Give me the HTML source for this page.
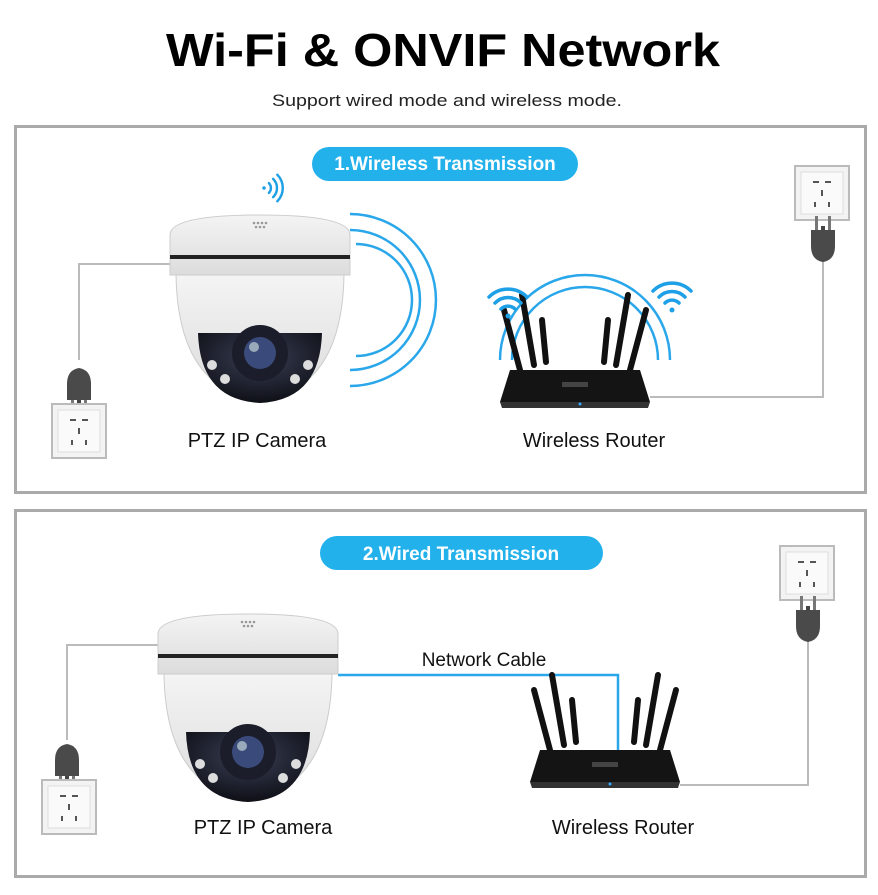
<!DOCTYPE html>
<html><head><meta charset="utf-8"><style>
html,body{margin:0;padding:0;background:#fff;width:878px;height:895px;overflow:hidden}
svg text{font-family:"Liberation Sans",Arial,sans-serif}
</style></head><body>
<svg width="878" height="895" viewBox="0 0 878 895" xmlns="http://www.w3.org/2000/svg">
<defs>
<linearGradient id="dome" x1="0" y1="0" x2="0" y2="1"><stop offset="0" stop-color="#f4f4f4"/><stop offset="1" stop-color="#dcdcdc"/></linearGradient>
<radialGradient id="lens" cx="0.5" cy="0.35" r="0.7"><stop offset="0" stop-color="#3a3f55"/><stop offset="1" stop-color="#0b0c12"/></radialGradient>
<g id="socket">
<rect x="0" y="0" width="54" height="54" fill="#f3f3f3" stroke="#bbb" stroke-width="2"/>
<rect x="6" y="6" width="42" height="42" fill="#fafafa" stroke="#ddd"/>
<rect x="18" y="15" width="6" height="2" fill="#555"/><rect x="30" y="15" width="6" height="2" fill="#555"/>
<rect x="26" y="24" width="2" height="6" fill="#555"/>
<rect x="19" y="36" width="2" height="5" fill="#555"/><rect x="33" y="36" width="2" height="5" fill="#555"/>
</g>
<g id="plugup">
<rect x="-2" y="-30" width="4" height="30" fill="#444"/>
<path d="M-12 -20 Q-12 -34 0 -36 Q12 -34 12 -20 L12 -4 L-12 -4Z" fill="#4a4a4a"/>
<rect x="-8" y="-4" width="3" height="14" fill="#777"/><rect x="5" y="-4" width="3" height="14" fill="#777"/>
</g>
<g id="plugdown">
<rect x="-2" y="0" width="4" height="30" fill="#444"/>
<path d="M-12 20 Q-12 34 0 36 Q12 34 12 20 L12 4 L-12 4Z" fill="#4a4a4a"/>
<rect x="-8" y="-10" width="3" height="14" fill="#777"/><rect x="5" y="-10" width="3" height="14" fill="#777"/>
</g>
<g id="camera">
<path d="M0 20 Q0 0 90 0 Q180 0 180 20 L180 60 L0 60Z" fill="url(#dome)" stroke="#ccc"/>
<rect x="0" y="40" width="180" height="4" fill="#222"/>
<path d="M6 60 L174 60 Q172 175 90 185 Q8 175 6 60Z" fill="url(#dome)" stroke="#ccc"/>
<path d="M28 118 Q30 185 90 188 Q150 185 152 118 Z" fill="url(#lens)"/>
<circle cx="90" cy="138" r="28" fill="#1b1d2a"/>
<circle cx="90" cy="138" r="16" fill="#3a4a7a"/>
<circle cx="84" cy="132" r="5" fill="#9ab"/>
<circle cx="42" cy="150" r="5" fill="#ddd"/><circle cx="55" cy="164" r="5" fill="#ddd"/>
<circle cx="125" cy="164" r="5" fill="#ddd"/><circle cx="138" cy="150" r="5" fill="#ddd"/>
<g fill="#999"><circle cx="84" cy="8" r="1.3"/><circle cx="88" cy="8" r="1.3"/><circle cx="92" cy="8" r="1.3"/><circle cx="96" cy="8" r="1.3"/><circle cx="86" cy="12" r="1.3"/><circle cx="90" cy="12" r="1.3"/><circle cx="94" cy="12" r="1.3"/></g>
</g>
<g id="router">
<g stroke="#111" stroke-width="6" stroke-linecap="round">
<line x1="20" y1="60" x2="4" y2="0"/><line x1="34" y1="55" x2="22" y2="-15"/><line x1="46" y1="52" x2="42" y2="10"/>
<line x1="104" y1="52" x2="108" y2="10"/><line x1="116" y1="55" x2="128" y2="-15"/><line x1="130" y1="60" x2="146" y2="0"/>
</g>
<path d="M10 60 L140 60 L150 92 L0 92Z" fill="#141414"/>
<path d="M0 92 L150 92 L148 98 L2 98Z" fill="#333"/>
<rect x="62" y="72" width="26" height="5" fill="#444"/>
<circle cx="80" cy="94" r="1.5" fill="#3af"/>
</g>
<g id="wifi" fill="none" stroke="#1ea0e6" stroke-width="3.5" stroke-linecap="round">
<circle cx="0" cy="0" r="2.5" fill="#1ea0e6" stroke="none"/>
<path d="M-7 -7 A10 10 0 0 1 7 -7"/><path d="M-13 -13 A18 18 0 0 1 13 -13"/><path d="M-19 -19 A27 27 0 0 1 19 -19"/>
</g>
</defs>

<text x="166" y="66" font-size="46" font-weight="bold" fill="#000" textLength="554" lengthAdjust="spacingAndGlyphs">Wi-Fi &amp; ONVIF Network</text>
<text x="272" y="106" font-size="17" fill="#222" textLength="350" lengthAdjust="spacingAndGlyphs">Support wired mode and wireless mode.</text>

<!-- Panel 1 -->
<rect x="15.5" y="126.5" width="850" height="366" fill="#fff" stroke="#aaa" stroke-width="3"/>
<rect x="312" y="147" width="266" height="34" rx="17" fill="#23b1ec"/>
<text x="445" y="170" text-anchor="middle" font-size="19" font-weight="bold" fill="#fff">1.Wireless Transmission</text>

<g fill="none" stroke="#2aa7ea" stroke-width="2.5">
<path d="M350 230 A70 70 0 0 1 350 370"/>
<path d="M356 244 A55 55 0 0 1 356 356"/>
<path d="M350 214 A86 86 0 0 1 350 386"/>
<path d="M500 360 A85 85 0 0 1 670 360"/>
<path d="M512 360 A73 73 0 0 1 658 360"/>
</g>
<polyline points="172,264 79,264 79,360" fill="none" stroke="#bbb" stroke-width="2"/>
<use href="#camera" transform="translate(170,215)"/>
<g transform="translate(264,188) rotate(90)"><use href="#wifi" transform="scale(0.7)"/></g>
<use href="#plugup" transform="translate(79,404)"/>
<use href="#socket" x="52" y="404"/>
<text x="257" y="447" text-anchor="middle" font-size="20" fill="#111">PTZ IP Camera</text>

<use href="#router" transform="translate(500,310)"/>
<use href="#wifi" transform="translate(508,316)"/>
<use href="#wifi" transform="translate(672,310)"/>
<polyline points="650,397 823,397 823,260" fill="none" stroke="#bbb" stroke-width="2"/>
<use href="#socket" x="795" y="166"/>
<use href="#plugdown" transform="translate(823,226)"/>
<text x="594" y="447" text-anchor="middle" font-size="20" fill="#111">Wireless Router</text>

<!-- Panel 2 -->
<rect x="15.5" y="510.5" width="850" height="366" fill="#fff" stroke="#aaa" stroke-width="3"/>
<rect x="320" y="536" width="283" height="34" rx="17" fill="#23b1ec"/>
<text x="461" y="560" text-anchor="middle" font-size="19" font-weight="bold" fill="#fff">2.Wired Transmission</text>

<polyline points="160,645 67,645 67,740" fill="none" stroke="#bbb" stroke-width="2"/>
<polyline points="338,675 618,675 618,760" fill="none" stroke="#2aa7ea" stroke-width="2.5"/>
<text x="484" y="666" text-anchor="middle" font-size="19" fill="#111">Network Cable</text>
<use href="#camera" transform="translate(158,614)"/>
<use href="#plugup" transform="translate(67,780)"/>
<use href="#socket" x="42" y="780"/>
<text x="263" y="834" text-anchor="middle" font-size="20" fill="#111">PTZ IP Camera</text>

<use href="#router" transform="translate(530,690)"/>
<polyline points="680,785 808,785 808,640" fill="none" stroke="#bbb" stroke-width="2"/>
<use href="#socket" x="780" y="546"/>
<use href="#plugdown" transform="translate(808,606)"/>
<text x="623" y="834" text-anchor="middle" font-size="20" fill="#111">Wireless Router</text>
</svg>
</body></html>
